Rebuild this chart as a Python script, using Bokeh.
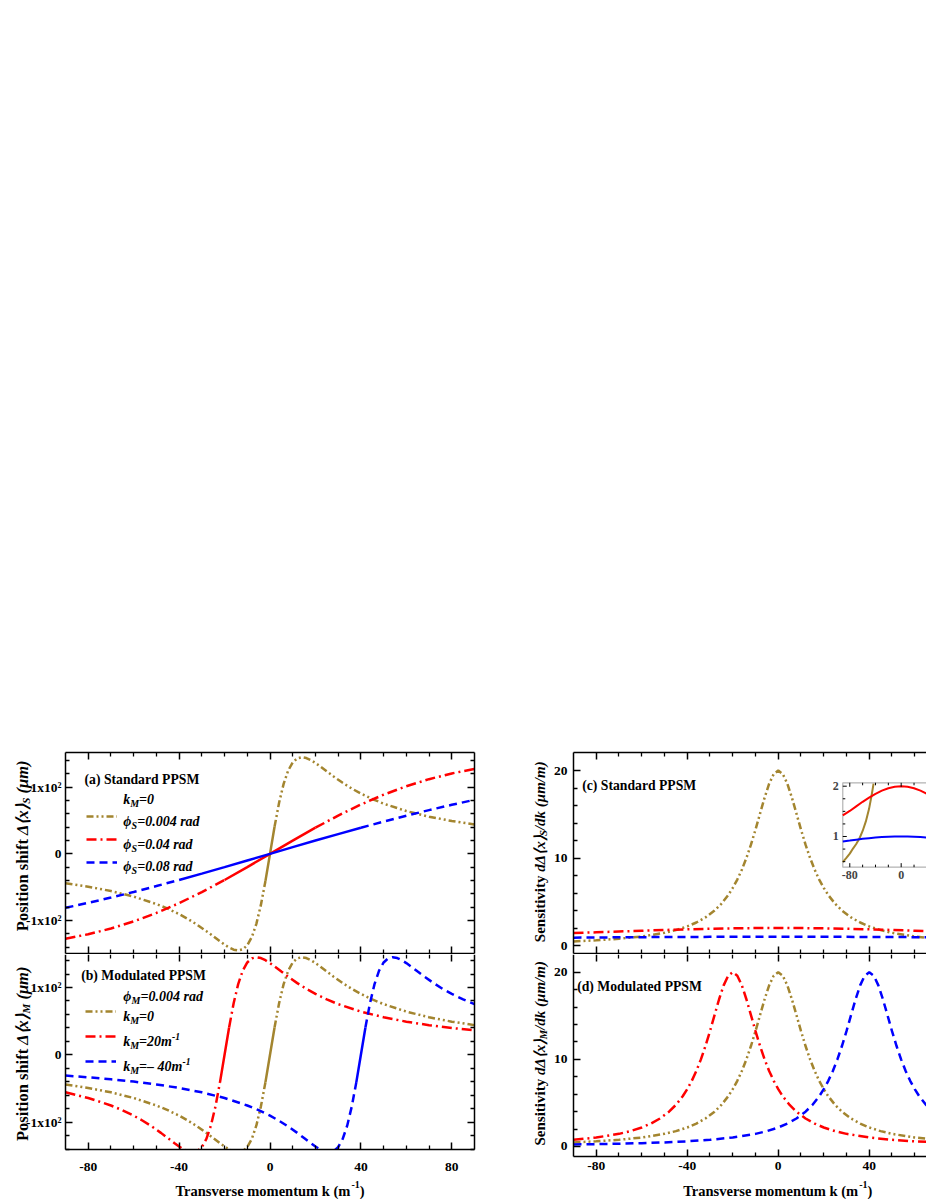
import math
from bokeh.plotting import figure
from bokeh.models import (Range1d, LinearAxis, FixedTicker, Label, Legend, LegendItem,
                          BoxAnnotation, Spacer, CustomJSTickFormatter)
from bokeh.layouts import column, row
from bokeh.embed import file_html
from bokeh.resources import INLINE

# ---------------- data ----------------
k_gold = [-90, -80, -70, -60, -50, -45, -40, -36, -32, -28, -25, -22, -20, -18, -16, -14, -12, -10, -8, -6,
          -4, -2, 0, 2, 4, 6, 8, 10, 12, 14, 16, 18, 20, 22, 25, 28, 32, 36, 40, 45, 50, 60, 70, 80, 90]
shift_gold = [-44.05, -49.24, -55.77, -64.17, -75.30, -82.26, -90.42, -97.96, -106.49, -116.0, -123.63,
              -131.35, -136.24, -140.54, -143.72, -145.0, -143.29, -137.16, -124.92, -105.0, -76.60, -40.60,
              0, 40.60, 76.60, 105.0, 124.92, 137.16, 143.29, 145.0, 143.72, 140.54, 136.24, 131.35, 123.63,
              116.0, 106.49, 97.96, 90.42, 82.26, 75.30, 64.17, 55.77, 49.24, 44.05]
sens_gold = [0.47, 0.59, 0.77, 1.03, 1.45, 1.76, 2.18, 2.63, 3.21, 4.0, 4.77, 5.76, 6.58, 7.54, 8.67, 10.0,
             11.53, 13.24, 15.08, 16.90, 18.49, 19.60, 20.0, 19.60, 18.49, 16.90, 15.08, 13.24, 11.53, 10.0,
             8.67, 7.54, 6.58, 5.76, 4.77, 4.0, 3.21, 2.63, 2.18, 1.76, 1.45, 1.03, 0.77, 0.59, 0.47]

k_red_mod = [-90, -80, -70, -65, -60, -56, -52, -48, -45, -42, -40, -38, -36, -34, -32, -30, -28, -26, -24,
             -22, -20, -18, -16, -14, -12, -10, -8, -6, -4, -2, 0, 2, 5, 8, 12, 16, 20, 25, 30, 40, 50, 60,
             70, 80, 90]
shift_red_mod = [-55.77, -64.17, -75.30, -82.26, -90.42, -97.96, -106.49, -116.0, -123.63, -131.35, -136.24,
                 -140.54, -143.72, -145.0, -143.29, -137.16, -124.92, -105.0, -76.60, -40.60, 0, 40.60,
                 76.60, 105.0, 124.92, 137.16, 143.29, 145.0, 143.72, 140.54, 136.24, 131.35, 123.63, 116.0,
                 106.49, 97.96, 90.42, 82.26, 75.30, 64.17, 55.77, 49.24, 44.05, 39.82, 36.32]
sens_red_mod = [0.77, 1.03, 1.45, 1.76, 2.18, 2.63, 3.21, 4.0, 4.77, 5.76, 6.58, 7.54, 8.67, 10.0, 11.53,
                13.24, 15.08, 16.90, 18.49, 19.60, 20.0, 19.60, 18.49, 16.90, 15.08, 13.24, 11.53, 10.0, 8.67,
                7.54, 6.58, 5.76, 4.77, 4.0, 3.21, 2.63, 2.18, 1.76, 1.45, 1.03, 0.77, 0.59, 0.47, 0.38, 0.32]

k_blue_mod = [-90, -80, -70, -60, -50, -40, -30, -20, -10, -5, 0, 4, 8, 12, 15, 18, 20, 22, 24, 26, 28, 30,
              32, 34, 36, 38, 40, 42, 44, 46, 48, 50, 52, 54, 56, 58, 60, 62, 65, 68, 72, 76, 80, 85, 90]
shift_blue_mod = [-30.87, -33.38, -36.32, -39.82, -44.05, -49.24, -55.77, -64.17, -75.30, -82.26, -90.42,
                  -97.96, -106.49, -116.0, -123.63, -131.35, -136.24, -140.54, -143.72, -145.0, -143.29,
                  -137.16, -124.92, -105.0, -76.60, -40.60, 0, 40.60, 76.60, 105.0, 124.92, 137.16, 143.29,
                  145.0, 143.72, 140.54, 136.24, 131.35, 123.63, 116.0, 106.49, 97.96, 90.42, 82.26, 75.30]
sens_blue_mod = [0.23, 0.27, 0.32, 0.38, 0.47, 0.59, 0.77, 1.03, 1.45, 1.76, 2.18, 2.63, 3.21, 4.0, 4.77,
                 5.76, 6.58, 7.54, 8.67, 10.0, 11.53, 13.24, 15.08, 16.90, 18.49, 19.60, 20.0, 19.60, 18.49,
                 16.90, 15.08, 13.24, 11.53, 10.0, 8.67, 7.54, 6.58, 5.76, 4.77, 4.0, 3.21, 2.63, 2.18, 1.76,
                 1.45]

k_std = [-90, -80, -70, -60, -50, -40, -30, -20, -10, 0, 10, 20, 30, 40, 50, 60, 70, 80, 90]
shift_red_std = [-127.37, -120.62, -112.0, -101.38, -88.69, -73.96, -57.37, -39.20, -19.90, 0, 19.90, 39.20,
                 57.37, 73.96, 88.69, 101.38, 112.0, 120.62, 127.37]
shift_blue_std = [-81.0, -73.54, -65.59, -57.18, -48.34, -39.14, -29.63, -19.89, -9.99, 0, 9.99, 19.89,
                  29.63, 39.14, 48.34, 57.18, 65.59, 73.54, 81.0]
sens_red_std = [1.415, 1.508, 1.60, 1.69, 1.774, 1.849, 1.912, 1.96, 1.99, 2.0, 1.99, 1.96, 1.912, 1.849,
                1.774, 1.69, 1.60, 1.508, 1.415]
sens_blue_std = [0.90, 0.919, 0.937, 0.953, 0.967, 0.979, 0.988, 0.995, 0.999, 1.0, 0.999, 0.995, 0.988,
                 0.979, 0.967, 0.953, 0.937, 0.919, 0.90]

inset_k_gold = [-90.9, -85, -80, -75, -70, -65, -60, -55, -50, -46, -43]
inset_gold = [0.49, 0.58, 0.66, 0.76, 0.85, 0.96, 1.11, 1.30, 1.55, 1.82, 2.05]
inset_k = [-90.9, -80, -70, -60, -50, -40, -30, -20, -10, 0, 10, 20, 30, 40, 50]
inset_red = [1.42, 1.508, 1.60, 1.69, 1.774, 1.849, 1.912, 1.96, 1.99, 2.0, 1.99, 1.96, 1.912, 1.849, 1.774]
inset_blue = [0.90, 0.919, 0.937, 0.953, 0.967, 0.979, 0.988, 0.995, 0.999, 1.0, 0.999, 0.995, 0.988, 0.979,
              0.967]

x_major = [-80, -40, 0, 40, 80]
x_major_labels = ["-80", "-40", "0", "40", "80"]
x_minor = [-70, -60, -50, -30, -20, -10, 10, 20, 30, 50, 60, 70]
shift_major = [-100, 0, 100]
shift_labels = ["-1x10\u00b2", "0", "1x10\u00b2"]
shift_minor = [-140, -120, -80, -60, -40, -20, 20, 40, 60, 80, 120, 140]
sens_major = [0, 10, 20]
sens_labels = ["0", "10", "20"]
sens_minor = [2, 4, 6, 8, 12, 14, 16, 18]
inset_x_major = [-80, 0]
inset_x_labels = ["-80", "0"]
inset_x_minor = [-60, -40, -20, 20]
inset_y_major = [1, 2]
inset_y_labels = ["1", "2"]
inset_y_minor = [0.5, 0.75, 1.25, 1.5, 1.75]

# ---------------- style ----------------
FONT = "Liberation Serif"
GOLD = "#A3852F"
RED = "#FF0000"
BLUE = "#0000FF"
DASH_GOLD = "7 3 2 3 2 3"
DASH_RED = "10 4 2 4"
DASH_BLUE = "8 5"
LW = 2.5

WB = {' ': 250, '(': 333, ')': 333, '-': 333, 'P': 611, 'S': 556, 'T': 667, 'M': 944, 'a': 500, 'b': 556,
      'c': 444, 'd': 556, 'e': 444, 'f': 333, 'h': 556, 'i': 278, 'k': 556, 'l': 278, 'm': 833, 'n': 556,
      'o': 500, 'r': 444, 's': 389, 't': 333, 'u': 556, 'v': 500, 'y': 500, 'x': 500}
WBI = {' ': 250, '(': 333, ')': 333, '/': 278, '=': 570, '.': 250, '-': 333, '\u2013': 500, 'k': 500,
       'd': 500, 'r': 389, 'a': 500, 'm': 778, 'x': 500, 'S': 556, 'M': 889, '\u0394': 612, '\u27e8': 390,
       '\u27e9': 390, '\u03bc': 576, '\u03d5': 600}
for _c in "0123456789":
    WB[_c] = 500
    WBI[_c] = 500


def text_width(s, size, italic):
    tbl = WBI if italic else WB
    return sum(tbl.get(c, 556) for c in s) * size / 1000.0


def rich(p, x, y, pieces, vertical=False, center=False):
    """pieces: (text, italic, size_px, baseline_shift_px); x, y in canvas px from bottom-left"""
    if center:
        total = sum(text_width(t, s, it) for t, it, s, _ in pieces)
        x = x - total / 2.0
    adv = 0.0
    for text, italic, size, shift in pieces:
        lead = len(text) - len(text.lstrip(" "))
        adv += lead * 0.25 * size
        t = text.strip(" ")
        if vertical:
            lx, ly, ang = x - shift, y + adv, math.pi / 2
        else:
            lx, ly, ang = x + adv, y + shift, 0.0
        p.add_layout(Label(x=lx, y=ly, x_units="screen", y_units="screen", text=t, angle=ang,
                           text_font=FONT, text_font_style="bold italic" if italic else "bold",
                           text_font_size=f"{size}px", text_baseline="alphabetic", text_align="left",
                           text_color="black"))
        adv += text_width(t, size, italic)
        trail = len(text) - len(text.rstrip(" "))
        adv += trail * 0.25 * size


def panel(w, h, bl, bt, bw, bh, xb, yb):
    """figure whose frame is the whole canvas; the drawn box (bl, bt, bw, bh px) shows xb x yb"""
    sx = bw / (xb[1] - xb[0])
    sy = bh / (yb[1] - yb[0])
    xr = Range1d(xb[0] - bl / sx, xb[1] + (w - bl - bw) / sx)
    yr = Range1d(yb[0] - (h - bt - bh) / sy, yb[1] + bt / sy)
    p = figure(width=w, height=h, x_range=xr, y_range=yr, output_backend="svg", toolbar_location=None,
               x_axis_location=None, y_axis_location=None, min_border=0,
               min_border_left=0, min_border_right=0, min_border_top=0, min_border_bottom=0)
    p.grid.visible = False
    p.outline_line_color = None
    p.background_fill_color = "white"
    p.border_fill_color = "white"
    return p


def add_axis(p, side, loc, bounds, major, minor, labels=None, standoff=0, line=True):
    ax = LinearAxis(ticker=FixedTicker(ticks=major, minor_ticks=minor), fixed_location=loc, bounds=bounds)
    ax.major_tick_in = 7
    ax.major_tick_out = 0
    ax.minor_tick_in = 4
    ax.minor_tick_out = 0
    ax.axis_line_width = 1.5
    ax.major_tick_line_width = 1.5
    ax.minor_tick_line_width = 1.3
    ax.axis_line_color = "black" if line else None
    ax.major_tick_line_color = "black"
    ax.minor_tick_line_color = "black"
    if labels is None:
        ax.formatter = CustomJSTickFormatter(code="return ''")
        ax.major_label_text_font_size = "0px"
        ax.major_label_standoff = 0
    else:
        ax.major_label_overrides = {m: l for m, l in zip(major, labels)}
        ax.major_label_text_font = FONT
        ax.major_label_text_font_style = "bold"
        ax.major_label_text_font_size = "13.5px"
        ax.major_label_text_color = "black"
        ax.major_label_standoff = standoff
    p.add_layout(ax, side)
    return ax


def draw_split(p, k, y, color, dash, lo, hi):
    parts = [[(a, b) for a, b in zip(k, y) if a <= lo],
             [(a, b) for a, b in zip(k, y) if lo <= a <= hi],
             [(a, b) for a, b in zip(k, y) if a >= hi]]
    rs = []
    for i, part in enumerate(parts):
        rs.append(p.line([a for a, _ in part], [b for _, b in part], line_color=color, line_width=LW,
                         line_dash="solid" if i == 1 else dash))
    return rs[0]


def legend(p, renderers, loc, h):
    items = [LegendItem(label=" ", renderers=[r]) for r in renderers]
    leg = Legend(items=items, location=loc, glyph_width=31, glyph_height=h, label_height=h,
                 label_width=0, label_standoff=0, spacing=1, padding=0, margin=0,
                 border_line_color=None, background_fill_alpha=0, label_text_font_size="1px")
    p.add_layout(leg)


def title(p, x, y, text):
    p.add_layout(Label(x=x, y=y, x_units="screen", y_units="screen", text=text, text_font=FONT,
                       text_font_style="bold", text_font_size="13.7px", text_baseline="alphabetic",
                       text_color="black"))


XL = (-90, 90)
XR = (-90, 65.165)
YA = (-149.5, 152)
YB = (-140.7, 149.0)
YC = (-0.914, 22.06)
YD = (-1.15, 22.035)

# ---------------- panel (a) ----------------
fa = panel(480, 214, 65, 12, 409, 201, XL, YA)
add_axis(fa, "left", XL[0], YA, shift_major, shift_minor, shift_labels, 4)
add_axis(fa, "right", XL[1], YA, shift_major, shift_minor)
add_axis(fa, "above", YA[1], XL, x_major, x_minor)
add_axis(fa, "below", YA[0], XL, x_major, x_minor)
ga = draw_split(fa, k_gold, shift_gold, GOLD, DASH_GOLD, -2, 2)
ra = draw_split(fa, k_std, shift_red_std, RED, DASH_RED, -20, 20)
ba = draw_split(fa, k_std, shift_blue_std, BLUE, DASH_BLUE, -40, 40)
legend(fa, [ga, ra, ba], (86, 81), 22)
title(fa, 84, 175.2, "(a) Standard PPSM")
rich(fa, 122.7, 154.7, [("k", True, 14, 0), ("M", True, 10, -3.5), ("=0", True, 14, 0)])
rich(fa, 122.7, 133, [("\u03d5", True, 14, 0), ("S", True, 10, -3.5), ("=0.004 rad", True, 14, 0)])
rich(fa, 122.7, 110, [("\u03d5", True, 14, 0), ("S", True, 10, -3.5), ("=0.04 rad", True, 14, 0)])
rich(fa, 122.7, 87.7, [("\u03d5", True, 14, 0), ("S", True, 10, -3.5), ("=0.08 rad", True, 14, 0)])
rich(fa, 21.5, 23.3, [("Position shift", False, 16.5, 0), (" \u0394\u27e8x\u27e9", True, 16.5, 0),
                      ("S", True, 11, -3.5), (" (\u03bcm)", True, 16.5, 0)], vertical=True)

# ---------------- panel (b) ----------------
fb = panel(480, 245, 65, 0, 409, 195, XL, YB)
add_axis(fb, "left", XL[0], YB, shift_major, shift_minor, shift_labels, 4)
add_axis(fb, "right", XL[1], YB, shift_major, shift_minor)
add_axis(fb, "above", YB[1], XL, x_major, x_minor, line=False)
add_axis(fb, "below", YB[0], XL, x_major, x_minor, x_major_labels, 13)
gb = draw_split(fb, k_gold, shift_gold, GOLD, DASH_GOLD, -2, 2)
rb = draw_split(fb, k_red_mod, shift_red_mod, RED, DASH_RED, -22, -18)
bb = draw_split(fb, k_blue_mod, shift_blue_mod, BLUE, DASH_BLUE, 38, 42)
fb.renderers.append(BoxAnnotation(left=XL[0], right=XL[1], top=YB[0], bottom=fb.y_range.start,
                                  fill_color="white", fill_alpha=1.0, line_color=None, level="glyph"))
legend(fb, [gb, rb, bb], (85, 126), 24)
title(fb, 80.7, 223.8, "(b) Modulated PPSM")
rich(fb, 122.7, 202.7, [("\u03d5", True, 14, 0), ("M", True, 10, -3.5), ("=0.004 rad", True, 14, 0)])
rich(fb, 122.7, 182.7, [("k", True, 14, 0), ("M", True, 10, -3.5), ("=0", True, 14, 0)])
rich(fb, 122.7, 157.7, [("k", True, 14, 0), ("M", True, 10, -3.5), ("=20m", True, 14, 0),
                        ("-1", True, 9.5, 5.5)])
rich(fb, 122.7, 132.7, [("k", True, 14, 0), ("M", True, 10, -3.5), ("=\u2013 40m", True, 14, 0),
                        ("-1", True, 9.5, 5.5)])
rich(fb, 21.5, 58.5, [("Position shift", False, 16.5, 0), (" \u0394\u27e8x\u27e9", True, 16.5, 0),
                      ("M", True, 11, -3.5), (" (\u03bcm)", True, 16.5, 0)], vertical=True)
rich(fb, 269.5, 9, [("Transverse momentum k (m", False, 14.5, 0), ("-1", False, 10, 6),
                    (")", False, 14.5, 0)], center=True)

# ---------------- panel (c) ----------------
fc = panel(446, 214, 93, 12, 353, 201, XR, YC)
fc.extra_x_ranges = {"ix": Range1d(-654.8, 39.4)}
fc.extra_y_ranges = {"iy": Range1d(-1.346, 2.9085)}
add_axis(fc, "left", XR[0], YC, sens_major, sens_minor, sens_labels, 6)
add_axis(fc, "above", YC[1], XR, x_major, x_minor)
add_axis(fc, "below", YC[0], XR, x_major, x_minor)
fc.line(k_gold, sens_gold, line_color=GOLD, line_width=LW, line_dash=DASH_GOLD)
fc.line(k_std, sens_red_std, line_color=RED, line_width=LW, line_dash=DASH_RED)
fc.line(k_std, sens_blue_std, line_color=BLUE, line_width=LW, line_dash=DASH_BLUE)
title(fc, 101.7, 169.5, "(c) Standard PPSM")
rich(fc, 59, 12.3, [("Sensitivity", False, 15, 0), (" d\u0394\u27e8x\u27e9", True, 15, 0),
                    ("S", True, 10.5, -3.5), ("/dk (\u03bcm/m)", True, 15, 0)], vertical=True)

# inset of (c)
IN_L, IN_R, IN_B, IN_T = -90.9, 120.0, 0.39, 2.068
fc.add_layout(BoxAnnotation(left=IN_L, right=IN_R, bottom=IN_B, top=IN_T, x_range_name="ix",
                            y_range_name="iy", fill_color="white", fill_alpha=1.0, line_color="black",
                            line_width=1.2, level="underlay"))
fc.line(inset_k_gold, inset_gold, x_range_name="ix", y_range_name="iy", line_color=GOLD, line_width=2)
fc.line(inset_k, inset_red, x_range_name="ix", y_range_name="iy", line_color=RED, line_width=2)
fc.line(inset_k, inset_blue, x_range_name="ix", y_range_name="iy", line_color=BLUE, line_width=2)
for ticks, ln in ((inset_x_major, 0.08), (inset_x_minor, 0.05)):
    fc.segment(x0=ticks, y0=[IN_B] * len(ticks), x1=ticks, y1=[IN_B + ln] * len(ticks),
               x_range_name="ix", y_range_name="iy", line_color="black", line_width=1)
    fc.segment(x0=ticks, y0=[IN_T] * len(ticks), x1=ticks, y1=[IN_T - ln] * len(ticks),
               x_range_name="ix", y_range_name="iy", line_color="black", line_width=1)
for ticks, ln in ((inset_y_major, 6.2), (inset_y_minor, 3.9)):
    fc.segment(x0=[IN_L] * len(ticks), y0=ticks, x1=[IN_L + ln] * len(ticks), y1=ticks,
               x_range_name="ix", y_range_name="iy", line_color="black", line_width=1)
for t, lab in zip(inset_x_major, inset_x_labels):
    fc.add_layout(Label(x=t, y=IN_B, x_range_name="ix", y_range_name="iy", text=lab, y_offset=-8,
                        text_align="center", text_baseline="middle", text_font=FONT,
                        text_font_style="bold", text_font_size="12px"))
for t, lab in zip(inset_y_major, inset_y_labels):
    fc.add_layout(Label(x=IN_L, y=t, x_range_name="ix", y_range_name="iy", text=lab, x_offset=-4,
                        text_align="right", text_baseline="middle", text_font=FONT,
                        text_font_style="bold", text_font_size="12px"))

# ---------------- panel (d) ----------------
fd = panel(446, 245, 93, 0, 353, 202, XR, YD)
add_axis(fd, "left", XR[0], YD, sens_major, sens_minor, sens_labels, 6)
add_axis(fd, "above", YD[1], XR, x_major, x_minor, line=False)
add_axis(fd, "below", YD[0], XR, x_major, x_minor, x_major_labels, 5)
fd.line(k_gold, sens_gold, line_color=GOLD, line_width=LW, line_dash=DASH_GOLD)
fd.line(k_red_mod, sens_red_mod, line_color=RED, line_width=LW, line_dash=DASH_RED)
fd.line(k_blue_mod, sens_blue_mod, line_color=BLUE, line_width=LW, line_dash=DASH_BLUE)
title(fd, 96.7, 213.5, "(d) Modulated PPSM")
rich(fd, 59, 54, [("Sensitivity", False, 15, 0), (" d\u0394\u27e8x\u27e9", True, 15, 0),
                  ("M", True, 10.5, -3.5), ("/dk (\u03bcm/m)", True, 15, 0)], vertical=True)
rich(fd, 297.3, 9, [("Transverse momentum k (m", False, 14.5, 0), ("-1", False, 10, 6),
                    (")", False, 14.5, 0)], center=True)

layout = column(Spacer(height=740, width=10), row(column(fa, fb), column(fc, fd)))
open("out.html", "w").write(file_html(layout, INLINE))
